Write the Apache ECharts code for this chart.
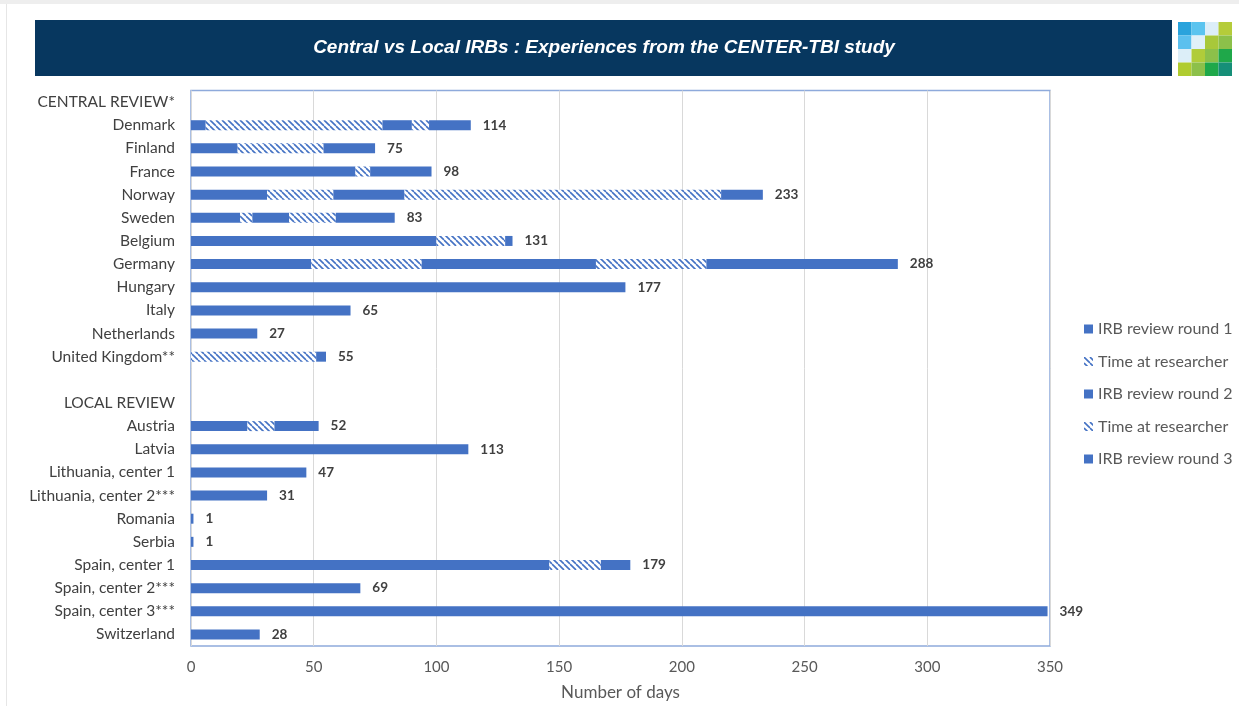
<!DOCTYPE html>
<html>
<head>
<meta charset="utf-8">
<script src="https://cdn.jsdelivr.net/npm/echarts@6/dist/echarts.min.js"></script>
<style>
html,body{margin:0;padding:0;background:#fff;}
#chart{width:1239px;height:706px;}
</style>
</head>
<body>
<div id="chart"></div>
<script>
var categories = ['CENTRAL REVIEW*','Denmark','Finland','France','Norway','Sweden','Belgium','Germany','Hungary','Italy','Netherlands','United Kingdom**','','LOCAL REVIEW','Austria','Latvia','Lithuania, center 1','Lithuania, center 2***','Romania','Serbia','Spain, center 1','Spain, center 2***','Spain, center 3***','Switzerland'];
var irbRound1        = [null,6,19,67,31,20,100,49,177,65,27,0,null,null,23,113,47,31,1,1,146,69,349,28];
var timeResearcher1  = [null,72,35,6,27,5,28,45,0,0,0,51,null,null,11,0,0,0,0,0,21,0,0,0];
var irbRound2        = [null,12,21,25,29,15,3,71,0,0,0,4,null,null,18,0,0,0,0,0,12,0,0,0];
var timeResearcher2  = [null,7,0,0,129,19,0,45,0,0,0,0,null,null,0,0,0,0,0,0,0,0,0,0];
var irbRound3        = [null,17,0,0,17,24,0,78,0,0,0,0,null,null,0,0,0,0,0,0,0,0,0,0];
var totalLabels      = [null,114,75,98,233,83,131,288,177,65,27,55,null,null,52,113,47,31,1,1,179,69,349,28];
var xTicks = [0,50,100,150,200,250,300,350];
var seriesNames = ['IRB review round 1','Time at researcher','IRB review round 2','Time at researcher ','IRB review round 3'];
var titleText = 'Central vs Local IRBs : Experiences from the CENTER-TBI study';

var BLUE = '#4472c4';
function hatch(){
  var c = document.createElement('canvas');
  c.width = 6; c.height = 6;
  var g = c.getContext('2d');
  g.fillStyle = '#ffffff'; g.fillRect(0,0,6,6);
  g.strokeStyle = BLUE; g.lineWidth = 1.6;
  for (var k=-6;k<=6;k+=6){
    g.beginPath(); g.moveTo(k,0); g.lineTo(k+6,6); g.stroke();
  }
  return {image:c, repeat:'repeat'};
}
var HATCH = hatch();

var chart = echarts.init(document.getElementById('chart'), null, {renderer:'canvas'});
var FONT = 'Lato, "Open Sans", sans-serif';

function barSeries(name, data, color){
  return {
    name:name, type:'bar', stack:'total', data:data, barWidth:10,
    itemStyle:{color:color}, emphasis:{disabled:true}, animation:false
  };
}

var logoColors = [
  ['#29a3dc','#5bc4ef','#dceef8','#b5cc3a'],
  ['#5bc0ee','#e0f0f8','#a8c83a','#8cc04a'],
  ['#dceef8','#b0cc3a','#8cc04a','#1fa84a'],
  ['#b0cc30','#8cc04a','#1fa84a','#168f78']
];
var logo = [];
for (var r=0;r<4;r++) for (var c=0;c<4;c++){
  logo.push({type:'rect', shape:{x:1178+c*13.5, y:22+r*13.5, width:13.5, height:13.5}, style:{fill:logoColors[r][c]}});
}

var option = {
  animation:false,
  backgroundColor:'#ffffff',
  textStyle:{fontFamily:FONT},
  graphic:[
    {type:'rect', shape:{x:0,y:0,width:1239,height:4}, style:{fill:'#eeeeee'}},
    {type:'rect', shape:{x:6,y:4,width:1,height:702}, style:{fill:'#e6e6e6'}},
    {type:'rect', shape:{x:35,y:20,width:1137,height:56}, style:{fill:'#07375f'}},
    {type:'text', x:604, y:48, style:{text:titleText, fill:'#ffffff', font:'italic bold 19px "Liberation Sans Narrow", "Liberation Sans", Arial, sans-serif', align:'center', verticalAlign:'middle'}}
  ].concat(logo),
  legend:{
    orient:'vertical', left:1079, top:316, itemGap:16.5, itemWidth:9, itemHeight:9,
    icon:'rect', data:seriesNames,
    textStyle:{color:'#595959', fontSize:16, fontFamily:FONT}, selectedMode:false
  },
  grid:{left:191, right:189, top:90.5, bottom:60, show:true, borderColor:'#8eaadb', borderWidth:1.5, containLabel:false, outerBoundsMode:'none'},
  xAxis:{
    type:'value', min:0, max:350, interval:50,
    name:'Number of days', nameLocation:'middle', nameGap:38,
    nameTextStyle:{color:'#595959', fontSize:17, fontFamily:FONT},
    axisLine:{show:false}, axisTick:{show:false},
    axisLabel:{color:'#595959', fontSize:15, margin:14, fontFamily:FONT},
    splitLine:{lineStyle:{color:'#d9d9d9', width:1}}
  },
  yAxis:{
    type:'category', data:categories, inverse:true,
    axisLine:{show:false}, axisTick:{show:false},
    axisLabel:{color:'#404040', fontSize:15.5, margin:16, fontFamily:FONT}
  },
  series:[
    barSeries(seriesNames[0], irbRound1, BLUE),
    barSeries(seriesNames[1], timeResearcher1, HATCH),
    barSeries(seriesNames[2], irbRound2, BLUE),
    barSeries(seriesNames[3], timeResearcher2, HATCH),
    barSeries(seriesNames[4], irbRound3, BLUE),
    {
      name:'labels', type:'bar', stack:'total', barWidth:10, silent:true,
      data: totalLabels.map(function(v){ return v==null ? null : 0; }),
      itemStyle:{color:'transparent'},
      label:{show:true, position:'right', distance:12, color:'#404040', fontWeight:'bold', fontSize:13.5, fontFamily:FONT,
        formatter:function(p){ var t = totalLabels[p.dataIndex]; return t==null ? '' : String(t); }}
    }
  ]
};
chart.setOption(option);
</script>
</body>
</html>
